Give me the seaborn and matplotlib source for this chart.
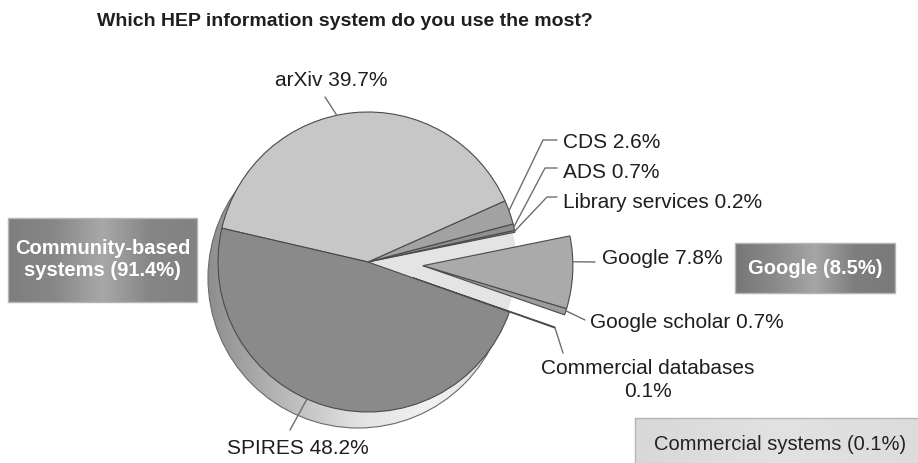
import numpy as np
import matplotlib.pyplot as plt
from matplotlib.patches import Circle, Rectangle, Wedge
from matplotlib.colors import LinearSegmentedColormap
import seaborn as sns

# data (pie order: counterclockwise from the commercial sliver)
systems = ["Commercial databases", "Google scholar", "Google", "Library services",
           "ADS", "CDS", "arXiv", "SPIRES"]
shares = [0.1, 0.7, 7.8, 0.2, 0.7, 2.6, 39.7, 48.2]
group_names = ["Community-based\nsystems", "Google", "Commercial systems"]
group_shares = [91.4, 8.5, 0.1]
title = "Which HEP information system do you use the most?"

colors = ["#ececec", "#9c9c9c", "#aaaaaa", "#8a8a8a", "#8e8e8e", "#a2a2a2", "#c7c7c7", "#8a8a8a"]

#–----------------------------------------------------------------------------
sns.set_theme(style="white")
plt.rcParams['font.family'] = ['Liberation Sans', 'DejaVu Sans']

H = 463  # picture height, axes units are pixels
cx, cy, R = 368, H - 262, 150

fig = plt.figure(figsize=(9.18, 4.63), dpi=100)
ax = fig.add_axes([0, 0, 1, 1])

wedges, _ = ax.pie(shares, colors=colors, startangle=-19.5, counterclock=True,
                   center=(cx, cy), radius=R,
                   wedgeprops=dict(edgecolor="#4a4a4a", linewidth=0.8))
for w in wedges:
    w.set_zorder(3)

def move(w, ang, dist):
    a = np.deg2rad(ang)
    w.set_center((cx + dist * np.cos(a), cy + dist * np.sin(a)))

# google group exploded as one piece, commercial sliver a bit less
g_mid = (wedges[1].theta1 + wedges[2].theta2) / 2
move(wedges[1], g_mid, 55)
move(wedges[2], g_mid, 55)
move(wedges[0], (wedges[0].theta1 + wedges[0].theta2) / 2, 48)

# 3d rim behind the pie
rx, ry = cx - 10, cy - 16
rim = Circle((rx, ry), R, facecolor="none", edgecolor="#6a6a6a", lw=0.8, zorder=1)
ax.add_patch(rim)
rim_cmap = LinearSegmentedColormap.from_list("rim", ["#8e8e8e", "#b8b8b8", "#e2e2e2", "#f2f2f2", "#d6d6d6"])
im = ax.imshow(np.linspace(0, 1, 256)[None, :], cmap=rim_cmap, aspect="auto",
               extent=(rx - R, rx + R, ry - R, ry + R), zorder=0.5)
im.set_clip_path(rim)

# light side walls showing in the gap
ax.add_patch(Wedge((cx, cy), R - 2, wedges[0].theta1, wedges[2].theta2,
                   facecolor="#e4e4e4", edgecolor="none", zorder=2))

#–----------------------------------------------------------------------------
# labels with leader lines: anchor angle on wedge, waypoints, text position
lab = {
    "arXiv":                (102, [(325, 97)], (275, 80), "left"),
    "SPIRES":               (246, [(290, 430)], (227, 448), "left"),
    "CDS":                  (20, [(543, 140), (557, 140)], (563, 143), "left"),
    "ADS":                  (13.5, [(545, 168), (557, 168)], (563, 172), "left"),
    "Library services":     (11.9, [(547, 197), (557, 197)], (563, 202), "left"),
    "Google":               (1.5, [(595, 262)], (602, 258), "left"),
    "Google scholar":       (-17.5, [(585, 320)], (590, 322), "left"),
    "Commercial databases": (-19.3, [(563, 353)], (648, 380), "center"),
}
for w, name, s in zip(wedges, systems, shares):
    ang, pts, tpos, ha = lab[name]
    c = w.center
    a = np.deg2rad(ang)
    xs = [c[0] + R * np.cos(a)] + [p[0] for p in pts]
    ys = [c[1] + R * np.sin(a)] + [H - p[1] for p in pts]
    ax.plot(xs, ys, color="#6e6e6e", lw=1, zorder=4)
    txt = f"{name}\n{s}%" if name == "Commercial databases" else f"{name} {s}%"
    ax.text(tpos[0], H - tpos[1], txt, ha=ha, va="center", fontsize=15,
            color="#1e1e1e", linespacing=1.25, zorder=5)

#–----------------------------------------------------------------------------
# group boxes
def box(x0, x1, y0, y1, cols, text, tcolor, weight):
    cm = LinearSegmentedColormap.from_list("b", cols)
    ax.imshow(np.linspace(0, 1, 256)[None, :], cmap=cm, aspect="auto",
              extent=(x0, x1, H - y1, H - y0), zorder=2)
    ax.add_patch(Rectangle((x0, H - y1), x1 - x0, y1 - y0, facecolor="none",
                           edgecolor="#b5b5b5", lw=1, zorder=3))
    ax.text((x0 + x1) / 2, H - (y0 + y1) / 2, text, ha="center", va="center",
            fontsize=14.5, color=tcolor, fontweight=weight, linespacing=1.2, zorder=5)

box(8, 197, 218, 302, ["#7e7e7e", "#888888", "#a8a8a8", "#868686", "#828282"],
    f"{group_names[0]} ({group_shares[0]}%)", "white", "bold")
box(735, 895, 243, 293, ["#767676", "#8a8a8a", "#a6a6a6", "#7e7e7e", "#7a7a7a"],
    f"{group_names[1]} ({group_shares[1]}%)", "white", "bold")
box(635, 925, 418, 470, ["#d8d8d8", "#e2e2e2", "#dcdcdc"],
    f"{group_names[2]} ({group_shares[2]}%)", "#222222", "normal")

ax.text(97, H - 22, title, ha="left", va="center", fontsize=14, fontweight="bold", color="#1e1e1e")

ax.set_xlim(0, 918)
ax.set_ylim(0, H)
ax.set_aspect("auto")
ax.axis("off")
plt.savefig("out.png", dpi=100)
